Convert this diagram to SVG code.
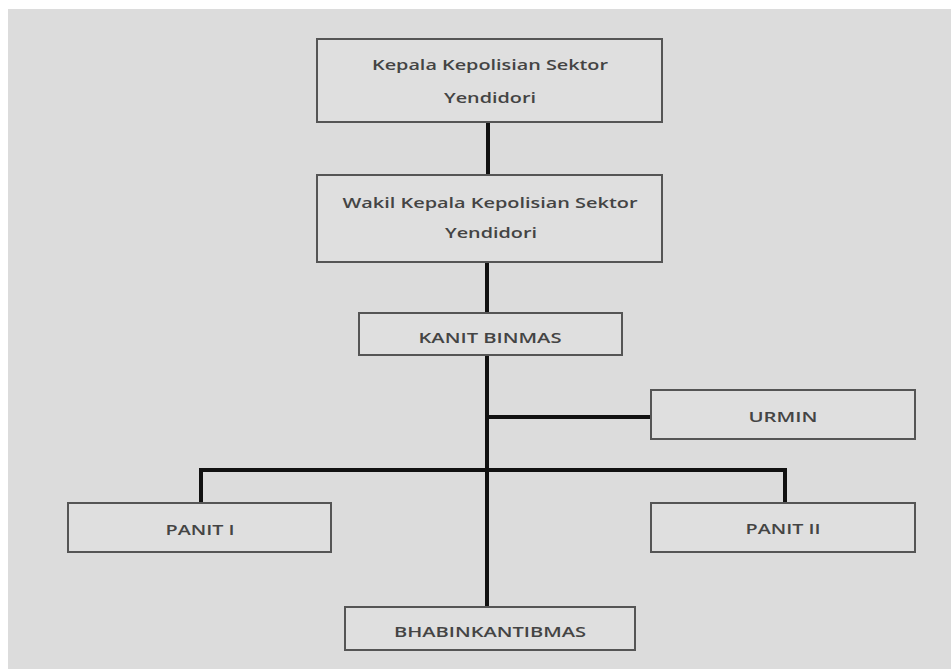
<svg xmlns="http://www.w3.org/2000/svg" width="951" height="669" viewBox="0 0 951 669">
<style>
.box{fill:#dfdfdf;stroke:#555555;stroke-width:2}
.t{font-family:"Open Sans","Liberation Sans",sans-serif;font-size:15px;font-weight:600;fill:#444444;text-anchor:middle;dominant-baseline:central}
.c{fill:none;stroke:#111;stroke-width:4}
</style>
<rect x="0" y="0" width="951" height="669" fill="#ffffff"/>
<rect x="8" y="9" width="943" height="660" fill="#dcdcdc"/>
<g id="connectors">
<line class="c" x1="488" y1="122" x2="488" y2="175"/>
<line class="c" x1="487" y1="262" x2="487" y2="313"/>
<line class="c" x1="487" y1="355" x2="487" y2="607"/>
<line class="c" x1="487" y1="417" x2="651" y2="417"/>
<polyline class="c" points="201,503 201,470 785,470 785,503"/>
</g>
<g id="kapolsek">
<rect class="box" x="317" y="39" width="345" height="83"/>
<text class="t" x="490" y="64" textLength="236" lengthAdjust="spacingAndGlyphs">Kepala Kepolisian Sektor</text>
<text class="t" x="490" y="97" textLength="92" lengthAdjust="spacingAndGlyphs">Yendidori</text>
</g>
<g id="wakapolsek">
<rect class="box" x="317" y="175" width="345" height="87"/>
<text class="t" x="490" y="202" textLength="295" lengthAdjust="spacingAndGlyphs">Wakil Kepala Kepolisian Sektor</text>
<text class="t" x="491" y="232" textLength="92" lengthAdjust="spacingAndGlyphs">Yendidori</text>
</g>
<g id="kanit">
<rect class="box" x="359" y="313" width="263" height="42"/>
<text class="t" x="490" y="337" textLength="143" lengthAdjust="spacingAndGlyphs">KANIT BINMAS</text>
</g>
<g id="urmin">
<rect class="box" x="651" y="390" width="264" height="49"/>
<text class="t" x="783" y="416" textLength="69" lengthAdjust="spacingAndGlyphs">URMIN</text>
</g>
<g id="panit1">
<rect class="box" x="68" y="503" width="263" height="49"/>
<text class="t" x="200" y="529" textLength="69" lengthAdjust="spacingAndGlyphs">PANIT I</text>
</g>
<g id="panit2">
<rect class="box" x="651" y="503" width="264" height="49"/>
<text class="t" x="783" y="528" textLength="75" lengthAdjust="spacingAndGlyphs">PANIT II</text>
</g>
<g id="bhabinkantibmas">
<rect class="box" x="345" y="607" width="290" height="43"/>
<text class="t" x="490" y="631" textLength="192" lengthAdjust="spacingAndGlyphs">BHABINKANTIBMAS</text>
</g>
</svg>
